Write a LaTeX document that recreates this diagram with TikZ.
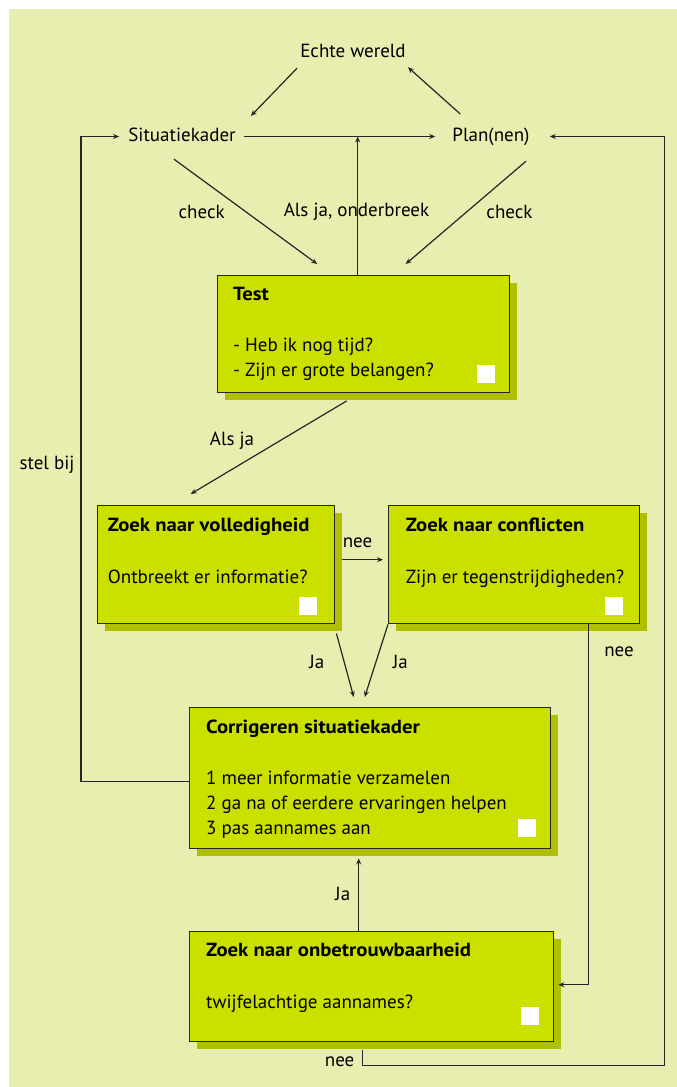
\documentclass[tikz,border=0pt]{standalone}
\usepackage{fontspec}
\setmainfont{PT Sans}[BoldFeatures={FakeStretch=1.09}]
\usetikzlibrary{calc,arrows.meta,shadows}
\definecolor{bg}{RGB}{232,238,176}
\definecolor{boxfill}{RGB}{204,224,0}
\definecolor{boxshadow}{RGB}{176,192,0}
\definecolor{ink}{RGB}{38,38,38}
\begin{document}
\begin{tikzpicture}[x=1pt,y=-1pt,
  font=\fontsize{19}{22}\selectfont,
  lbl/.style={inner sep=0pt, text height=13pt, text depth=4pt, anchor=base},
  txt/.style={inner sep=0pt, anchor=base west},
  ttl/.style={inner sep=0pt, anchor=base west, font=\fontsize{19}{22}\selectfont\bfseries},
  box/.style={draw=ink, line width=1.4pt, fill=boxfill, anchor=north west, inner sep=0pt,
    drop shadow={shadow xshift=7.5pt, shadow yshift=-7.5pt, fill=boxshadow, opacity=1}},
  sq/.style={fill=white, draw=none, minimum size=18pt, inner sep=0pt},
  arr/.style={draw=ink, line width=1.2pt, -{Stealth[length=6pt,width=5pt]}},
  ln/.style={draw=ink, line width=1.2pt}
]
\useasboundingbox (0,0) rectangle (677,1087);
\fill[bg] (9,9) rectangle (677,1087);

% top labels
\node[lbl] (echte) at (353,57.7) {Echte wereld};
\node[lbl] (sit) at (182,141) {Situatiekader};
\node[lbl] (plan) at (491,141) {Plan(nen)};
\node[lbl] (checkl) at (201.7,218.3) {check};
\node[lbl] (checkr) at (509.5,218.3) {check};
\node[lbl] (onderbreek) at (356.5,216) {Als ja, onderbreek};
\node[lbl] (alsja) at (232,445) {Als ja};
\node[lbl] (stelbij) at (47,469) {stel bij};

% boxes
\node[box, minimum width=292pt, minimum height=117pt] (test) at (217,275) {};
\node[box, minimum width=237pt, minimum height=118pt] (vol) at (97,505) {};
\node[box, minimum width=251pt, minimum height=118pt] (con) at (388,505) {};
\node[box, minimum width=361pt, minimum height=141pt] (cor) at (189,707) {};
\node[box, minimum width=364pt, minimum height=110pt] (onb) at (189,931) {};

% box texts
\node[ttl] (testt) at (233,300.7) {Test};
\node[txt] (test1) at (233,351.7) {- Heb ik nog tijd?};
\node[txt] (test2) at (233,376.7) {- Zijn er grote belangen?};
\node[sq] (testsq) at (486,374) {};

\node[ttl] (volt) at (107.7,531.7) {Zoek naar volledigheid};
\node[txt] (vol1) at (107.7,583.3) {Ontbreekt er informatie?};
\node[sq] (volsq) at (308,605.5) {};

\node[ttl] (cont) at (405.6,531.7) {Zoek naar conflicten};
\node[txt] (con1) at (405.6,583.3) {Zijn er tegenstrijdigheden?};
\node[sq] (consq) at (613.7,605.5) {};

\node[ttl] (cort) at (206,733.3) {Corrigeren situatiekader};
\node[txt] (cor1) at (206,784.3) {1 meer informatie verzamelen};
\node[txt] (cor2) at (206,809.3) {2 ga na of eerdere ervaringen helpen};
\node[txt] (cor3) at (206,834.3) {3 pas aannames aan};
\node[sq] (corsq) at (527,828) {};

\node[ttl] (onbt) at (206,956.7) {Zoek naar onbetrouwbaarheid};
\node[txt] (onb1) at (206,1008.3) {twijfelachtige aannames?};
\node[sq] (onbsq) at (530,1016) {};

% edge labels
\node[lbl] (neemid) at (357.5,547.3) {nee};
\node[lbl] (jal) at (316.8,668.3) {Ja};
\node[lbl] (jar) at (400.4,668.3) {Ja};
\node[lbl] (neer) at (619,656.7) {nee};
\node[lbl] (jab) at (342.7,900) {Ja};
\node[lbl] (neeb) at (339.6,1066) {nee};

% connectors
\draw[arr] ($(echte.south)+(-56,6.3)$) -- ($(sit.east)+(15,-20.5)$);
\draw[arr] ($(plan.west)+(8,-22.5)$) -- ($(echte.east)+(2,14)$);
\draw[arr, shorten <=8pt, shorten >=17pt] (sit.east) -- (plan.west);
\draw[arr] ($(test.north)+(-6,0)$) coordinate (vt) -- (vt |- sit.east);
\draw[arr] ($(sit.south)+(-8,14)$) -- ($(test.north)+(-46.5,-11)$);
\draw[arr] ($(plan.south)+(35,16)$) -- ($(test.north)+(42,-11)$);
\draw[arr] ($(test.south)+(-17,7.5)$) -- ($(vol.north)+(-25.5,-11)$);
\draw[arr] ($(vol.east)+(7,-5)$) -- ($(con.west)+(-5,-5)$);
\draw[arr] ($(vol.south east)+(1,9)$) -- ($(cor.north)+(-16.5,-10)$);
\draw[arr] (con.south west) -- ($(cor.north)+(-5.5,-10)$);
\draw[arr] ($(con.south east)+(-52,0)$) |- ($(onb.east)+(4,-2)$);
\draw[arr] ($(onb.north)+(-13,0)$) -- ($(cor.south)+(-11.5,9)$);
\draw[arr] ($(cor.west)+(0,3.5)$) -- ++(-108,0) |- ($(sit.west)+(-9,0)$);
\draw[arr] ($(onb.south)+(-9,8)$) -- ++(0,15) -- ++(302,0) |- ($(plan.east)+(20,0)$);
\end{tikzpicture}
\end{document}
